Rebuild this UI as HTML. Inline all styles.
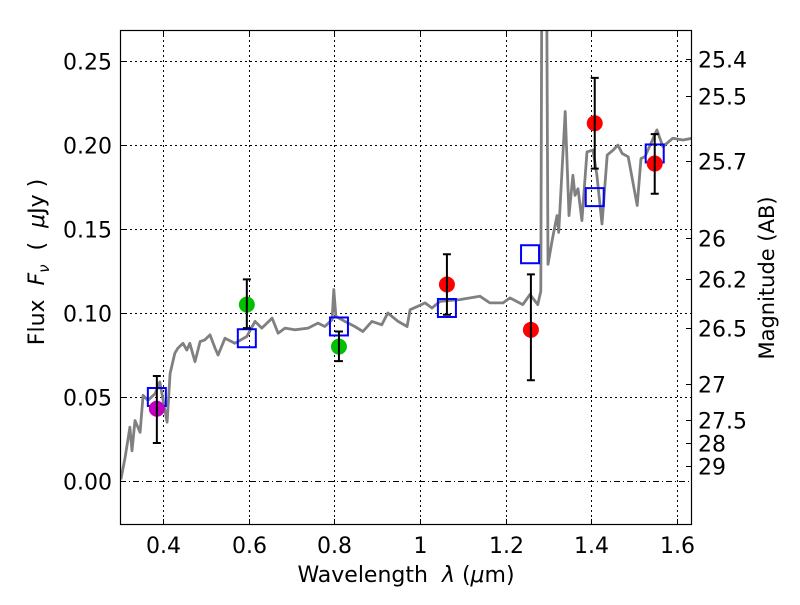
<!DOCTYPE html>
<html><head><meta charset="utf-8"><style>
html,body{margin:0;padding:0;background:#fff;}
svg text{font-family:"DejaVu Sans","Liberation Sans",sans-serif;white-space:pre;}
</style></head><body>
<svg id="chart" width="800" height="600" xmlns="http://www.w3.org/2000/svg">
<defs><clipPath id="clip"><rect x="120" y="30" width="572" height="495"/></clipPath></defs>
<rect x="0" y="0" width="800" height="600" fill="#fff"/>
<g id="grid"></g>
<g id="marks" clip-path="url(#clip)"></g>
<rect x="120.5" y="30.5" width="571" height="494" fill="none" stroke="#000" stroke-width="1.2"/>
<g id="axes"></g>
<text x="406" y="582" font-size="22" text-anchor="middle">Wavelength&#160;&#160;<tspan font-style="italic">λ</tspan> (<tspan font-style="italic">μ</tspan>m)</text>
<text transform="translate(44,262) rotate(-90)" font-size="22" text-anchor="middle">Flux&#160;&#160;<tspan font-style="italic">F</tspan><tspan font-style="italic" font-size="15" dy="5">ν</tspan><tspan dy="-5">&#160;&#160;(&#160;&#160;</tspan><tspan font-style="italic">μ</tspan>Jy )</text>
<text transform="translate(774,278) rotate(-90)" font-size="21" text-anchor="middle">Magnitude (AB)</text>
</svg>
<script>
const xTicks=[0.4,0.6,0.8,1.0,1.2,1.4,1.6];
const xTickLabels=["0.4","0.6","0.8","1","1.2","1.4","1.6"];
const yTicks=[0,0.05,0.1,0.15,0.2,0.25];
const yTickLabels=["0.00","0.05","0.10","0.15","0.20","0.25"];
const magTicks=[25.4,25.5,25.7,26,26.2,26.5,27,27.5,28,29];
const magTickLabels=["25.4","25.5","25.7","26","26.2","26.5","27","27.5","28","29"];
const specWave=[0.302,0.312,0.323,0.328,0.335,0.347,0.354,0.365,0.382,0.393,0.410,0.417,0.428,0.435,0.447,0.456,0.463,0.475,0.487,0.498,0.510,0.522,0.529,0.545,0.568,0.596,0.615,0.631,0.655,0.669,0.685,0.708,0.739,0.762,0.778,0.795,0.799,0.804,0.825,0.848,0.867,0.888,0.911,0.925,0.949,0.970,0.977,0.995,1.012,1.028,1.047,1.093,1.140,1.163,1.194,1.210,1.240,1.257,1.275,1.282,1.287,1.292,1.299,1.310,1.320,1.324,1.339,1.348,1.357,1.362,1.369,1.378,1.390,1.404,1.413,1.425,1.437,1.451,1.462,1.472,1.486,1.507,1.516,1.525,1.553,1.567,1.590,1.614,1.635];
const specFlux=[0.001,0.014,0.032,0.018,0.036,0.029,0.051,0.048,0.052,0.059,0.035,0.064,0.076,0.079,0.082,0.078,0.082,0.071,0.083,0.084,0.087,0.079,0.075,0.085,0.082,0.086,0.095,0.091,0.097,0.088,0.091,0.090,0.091,0.094,0.092,0.096,0.114,0.098,0.095,0.092,0.089,0.095,0.093,0.100,0.095,0.092,0.102,0.104,0.106,0.103,0.107,0.108,0.110,0.106,0.106,0.109,0.105,0.111,0.105,0.113,0.5,0.5,0.129,0.145,0.158,0.148,0.220,0.158,0.182,0.170,0.174,0.155,0.196,0.197,0.182,0.153,0.194,0.197,0.200,0.195,0.193,0.164,0.192,0.193,0.209,0.199,0.204,0.203,0.204];
const modelWave=[0.386,0.596,0.811,1.063,1.257,1.408,1.548];
const modelFlux=[0.050,0.085,0.092,0.103,0.135,0.169,0.195];
const obsWave=[0.386,0.596,0.811,1.063,1.259,1.408,1.548];
const obsFlux=[0.043,0.105,0.080,0.117,0.090,0.213,0.189];
const obsUpper=[0.0625,0.120,0.089,0.135,0.123,0.240,0.2065];
const obsLower=[0.0226,0.091,0.0714,0.099,0.060,0.186,0.171];
const obsColor=["#bf00bf","#00c000","#00c000","#ff0000","#ff0000","#ff0000","#ff0000"];

const X0=120,X1=692,Y0=525,Y1=30,xmin=0.3,xmax=1.635,ymin=-0.0262,ymax=0.2685;
const xs=v=>X0+(v-xmin)/(xmax-xmin)*(X1-X0);
const ys=v=>Y0-(v-ymin)/(ymax-ymin)*(Y0-Y1);
const NS="http://www.w3.org/2000/svg";
function mk(parent,tag,attrs){const e=document.createElementNS(NS,tag);for(const k in attrs)e.setAttribute(k,attrs[k]);parent.appendChild(e);return e;}
const grid=document.getElementById('grid'),marks=document.getElementById('marks'),axes=document.getElementById('axes');

xTicks.forEach((t,i)=>{const x=Math.round(xs(t))+0.5;
 let g=mk(grid,'line',{x1:x,x2:x,y1:Y1,y2:Y0,stroke:'#000','stroke-width':1,'stroke-dasharray':'2,3'});
 
 let a=mk(axes,'line',{x1:x,x2:x,y1:Y0,y2:Y0-6,stroke:'#000'});
 let b=mk(axes,'line',{x1:x,x2:x,y1:Y1,y2:Y1+6,stroke:'#000'});
 let tx=mk(axes,'text',{x:x,y:553,'font-size':22,'text-anchor':'middle'});tx.textContent=xTickLabels[i];
 
});
yTicks.forEach((t,i)=>{const y=Math.round(ys(t))+0.5;
 let g=mk(grid,'line',{x1:X0,x2:X1,y1:y,y2:y,stroke:'#000','stroke-width':1,'stroke-dasharray':t===0?'6,3,1,3':'2,3'});
 
 let a=mk(axes,'line',{x1:X0,x2:X0+6,y1:y,y2:y,stroke:'#000'});
 let tx=mk(axes,'text',{x:112,y:y+8,'font-size':22,'text-anchor':'end'});tx.textContent=yTickLabels[i];
 
});
magTicks.forEach((m,i)=>{const y=Math.round(ys(Math.pow(10,(23.9-m)/2.5)))+0.5;
 let a=mk(axes,'line',{x1:X1-6,x2:X1,y1:y,y2:y,stroke:'#000'});
 let tx=mk(axes,'text',{x:698,y:y+8,'font-size':22});tx.textContent=magTickLabels[i];
 
});
let d=specWave.map((w,i)=>(i?'L':'M')+xs(w).toFixed(1)+','+ys(specFlux[i]).toFixed(1)).join('');
let sp=mk(marks,'path',{d:d,fill:'none',stroke:'#808080','stroke-width':2.8,'stroke-linejoin':'round'});

modelWave.forEach((w,i)=>{const x=xs(w),y=ys(modelFlux[i]);
 let r=mk(marks,'rect',{x:x-9,y:y-9,width:18,height:18,fill:'none',stroke:'#0000ff','stroke-width':2});
 
});
obsWave.forEach((w,i)=>{const x=xs(w),yu=ys(obsUpper[i]),yl=ys(obsLower[i]);
 let c=mk(marks,'circle',{cx:x,cy:ys(obsFlux[i]),r:8,fill:obsColor[i]});
 
 let e=mk(marks,'path',{d:`M${x},${yu}L${x},${yl}M${x-4},${yu}L${x+4},${yu}M${x-4},${yl}L${x+4},${yl}`,stroke:'#000','stroke-width':2,fill:'none'});
 
});
</script>
</body></html>
